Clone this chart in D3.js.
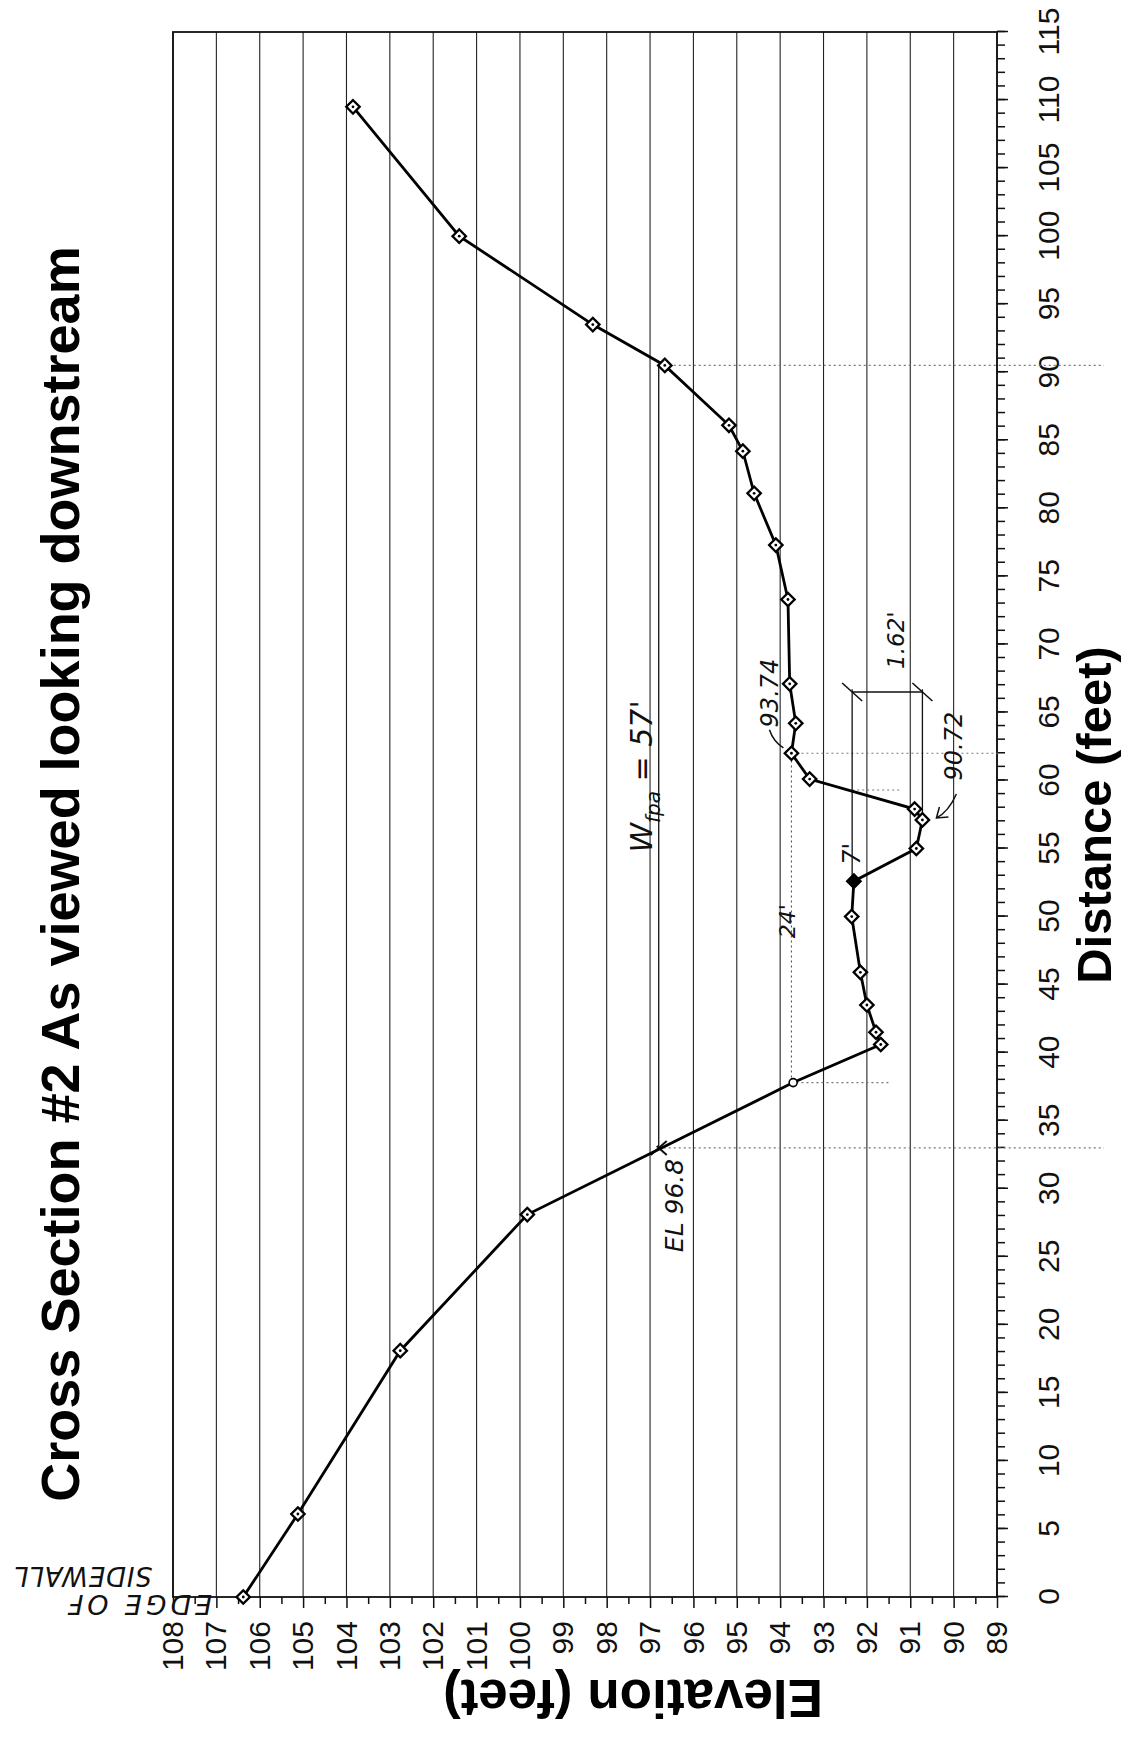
<!DOCTYPE html>
<html>
<head>
<meta charset="utf-8">
<script src="https://cdn.jsdelivr.net/npm/d3@7"></script>
<style>
  body { margin: 0; background: #fff; }
  .tick text { font-family: "Liberation Sans Narrow", "Arial Narrow", "Liberation Sans", Arial, sans-serif; }
  .hand { font-family: "DejaVu Sans", sans-serif; font-style: italic; fill: #111; }
</style>
</head>
<body>
<div id="chart"></div>
<script>
// ---- data ----
const distance  = [0, 6.1, 18.1, 28.1, 37.8, 40.6, 41.5, 43.5, 45.9, 50.0, 52.6, 55.0, 57.1, 57.9,
                   60.1, 62.0, 64.2, 67.1, 73.3, 77.3, 81.1, 84.2, 86.1, 90.5, 93.5, 100.0, 109.5];
const elevation = [106.38, 105.12, 102.76, 99.83, 93.70, 91.68, 91.79, 92.0, 92.15, 92.35, 92.30, 90.86, 90.72, 90.90,
                   93.32, 93.74, 93.64, 93.78, 93.82, 94.10, 94.60, 94.86, 95.18, 96.66, 98.32, 101.40, 103.85];
const filledPoint = 10;   // solid diamond
const smallPoint = 4;     // small circle
const distTicks = d3.range(0, 116, 5);
const distMinor = d3.range(0, 116, 1);
const elevTicks = d3.range(89, 109, 1);
const elevMinor = d3.range(89, 108, 1).map(d => d + 0.5);

// hand-drawn notes (data units)
const waterElev = 96.8, fpaFrom = 33, fpaTo = 90.5;
const lowElev = 93.74, lowFrom = 37.8, lowTo = 62.0;
const bankElev = 92.34, bankFrom = 52.6, bankCross = 59.3;
const thalweg = 90.72, thalwegDist = 57.1, dimDist = 66.5;

const W = 1748, H = 1132;   // chart is drawn landscape, then turned on its side
const x = d3.scaleLinear().domain([0, 115]).range([151, 1716]);
const y = d3.scaleLinear().domain([89, 108]).range([997, 173]);

const svg = d3.select("#chart").append("svg")
  .attr("width", H).attr("height", W);
const g = svg.append("g").attr("transform", `translate(0,${W}) rotate(-90)`);

// horizontal gridlines every foot
g.append("g").selectAll("line").data(elevTicks).enter().append("line")
  .attr("x1", x(0)).attr("x2", x(115))
  .attr("y1", d => y(d)).attr("y2", d => y(d))
  .attr("stroke", "#222").attr("stroke-width", 1.1);

// plot border
g.append("rect")
  .attr("x", x(0)).attr("y", y(108))
  .attr("width", x(115) - x(0)).attr("height", y(89) - y(108))
  .attr("fill", "none").attr("stroke", "#111").attr("stroke-width", 1.8);

// distance axis (bottom of landscape)
const xMinor = g.append("g").attr("transform", `translate(0,${y(89)})`)
  .call(d3.axisBottom(x).tickValues(distMinor).tickSize(8).tickFormat(""));
const xAxis = g.append("g").attr("transform", `translate(0,${y(89)})`)
  .call(d3.axisBottom(x).tickValues(distTicks).tickSize(11).tickPadding(30).tickFormat(d3.format("d")));
xAxis.selectAll("text").attr("font-size", 30).attr("fill", "#111");

// elevation axis
const yMinor = g.append("g").attr("transform", `translate(${x(0)},0)`)
  .call(d3.axisLeft(y).tickValues(elevMinor).tickSize(7).tickFormat(""));
const yAxis = g.append("g").attr("transform", `translate(${x(0)},0)`)
  .call(d3.axisLeft(y).tickValues(elevTicks).tickSize(11).tickPadding(13).tickFormat(d3.format("d")));
yAxis.selectAll("text").attr("font-size", 30).attr("fill", "#111");

[xMinor, xAxis, yMinor, yAxis].forEach(a => {
  a.select(".domain").remove();
  a.selectAll("line").attr("stroke", "#111").attr("stroke-width", 1.5);
});

// titles
g.append("text")
  .attr("x", 874).attr("y", 79)
  .attr("text-anchor", "middle")
  .attr("font-family", "Liberation Sans, Arial, sans-serif")
  .attr("font-weight", "bold").attr("font-size", 54)
  .text("Cross Section #2 As viewed looking downstream");

g.append("text")
  .attr("transform", `translate(68,633) rotate(-90)`)
  .attr("text-anchor", "middle")
  .attr("font-family", "Liberation Sans, Arial, sans-serif")
  .attr("font-weight", "bold").attr("font-size", 53)
  .text("Elevation (feet)");

g.append("text")
  .attr("x", 933).attr("y", 1111)
  .attr("text-anchor", "middle")
  .attr("font-family", "Liberation Sans, Arial, sans-serif")
  .attr("font-weight", "bold").attr("font-size", 49)
  .text("Distance (feet)");

// ---- hand-drawn annotations ----
const thin = sel => sel.attr("stroke", "#111").attr("stroke-width", 1.3).attr("fill", "none");
const dots = sel => sel.attr("stroke", "#777").attr("stroke-width", 1.1).attr("stroke-dasharray", "2,3").attr("fill", "none");
const ann = g.append("g");

// flood prone line at EL 96.8
ann.append("line").attr("x1", x(fpaFrom)).attr("x2", x(fpaTo))
  .attr("y1", y(waterElev)).attr("y2", y(waterElev)).call(thin);
ann.append("line").attr("x1", x(fpaFrom)).attr("x2", x(fpaFrom))
  .attr("y1", y(waterElev)).attr("y2", 1104).call(dots);
ann.append("line").attr("x1", x(fpaTo)).attr("x2", x(fpaTo))
  .attr("y1", y(waterElev)).attr("y2", 1104).call(dots);
ann.append("path")
  .attr("d", `M${x(fpaFrom) - 7},${y(waterElev) - 8} L${x(fpaFrom) + 7},${y(waterElev) + 8} M${x(fpaFrom) - 7},${y(waterElev) + 8} L${x(fpaFrom) + 2},${y(waterElev) - 2}`)
  .attr("stroke", "#111").attr("stroke-width", 2).attr("fill", "none");

// 24' line at 93.74
ann.append("line").attr("x1", x(lowFrom)).attr("x2", x(lowTo))
  .attr("y1", y(lowElev)).attr("y2", y(lowElev)).call(dots).attr("stroke", "#555");
ann.append("line").attr("x1", x(lowFrom)).attr("x2", x(lowFrom))
  .attr("y1", y(lowElev)).attr("y2", y(91.5)).call(dots);
ann.append("line").attr("x1", x(lowTo)).attr("x2", x(lowTo))
  .attr("y1", y(lowElev)).attr("y2", 1000).call(dots);

// 7' bankfull line and 1.62' dimension
ann.append("line").attr("x1", x(bankFrom)).attr("x2", x(dimDist + 0.2))
  .attr("y1", y(bankElev)).attr("y2", y(bankElev)).call(thin);
ann.append("line").attr("x1", x(thalwegDist)).attr("x2", x(dimDist + 0.2))
  .attr("y1", y(thalweg)).attr("y2", y(thalweg)).call(thin);
ann.append("line").attr("x1", x(bankCross)).attr("x2", x(bankCross))
  .attr("y1", y(bankElev)).attr("y2", y(91.2)).call(dots);
ann.append("line").attr("x1", x(dimDist)).attr("x2", x(dimDist))
  .attr("y1", y(bankElev)).attr("y2", y(thalweg)).call(thin);
[bankElev, thalweg].forEach(e => {
  ann.append("line")
    .attr("x1", x(dimDist) - 9).attr("y1", y(e) + 10)
    .attr("x2", x(dimDist) + 9).attr("y2", y(e) - 10)
    .attr("stroke", "#111").attr("stroke-width", 1.6);
});

// leader for 93.74
ann.append("path")
  .attr("d", `M${x(62.4)},${y(lowElev) - 8} q6,-10 18,-14`)
  .attr("stroke", "#111").attr("stroke-width", 1.5).attr("fill", "none");
// arrow to 90.72
const ax = x(thalwegDist) + 2, ay = y(thalweg) + 14;
ann.append("path")
  .attr("d", `M${ax + 24},${ay + 20} Q${ax + 6},${ay + 12} ${ax},${ay}`)
  .attr("stroke", "#111").attr("stroke-width", 1.5).attr("fill", "none");
ann.append("path")
  .attr("d", `M${ax + 1},${ay + 12} L${ax},${ay} L${ax + 11},${ay + 3}`)
  .attr("stroke", "#111").attr("stroke-width", 1.5).attr("fill", "none");

const notes = [
  {t: "EL 96.8", d: 32.2, e: 96.25, size: 25, anchor: "end"},
  {t: "93.74",   d: 63.9, e: 94.05, size: 24, anchor: "start"},
  {t: "1.62'",   d: 68.2, e: 91.15, size: 23, anchor: "start"},
  {t: "90.72",   d: 60.0, e: 89.8,  size: 24, anchor: "start"},
  {t: "24'",     d: 48.4, e: 93.65, size: 22, anchor: "start"},
  {t: "7'",      d: 53.8, e: 92.15, size: 24, anchor: "start"}
];
ann.selectAll("text.note").data(notes).enter().append("text")
  .attr("class", "hand note")
  .attr("x", d => x(d.d)).attr("y", d => y(d.e))
  .attr("font-size", d => d.size)
  .attr("text-anchor", d => d.anchor)
  .text(d => d.t);

// W_fpa = 57'
const wf = ann.append("text").attr("class", "hand")
  .attr("x", x(54.7)).attr("y", y(96.95)).attr("font-size", 30);
wf.append("tspan").text("W");
wf.append("tspan").attr("font-size", 20).attr("dy", 8).text("fpa");
wf.append("tspan").attr("dy", -8).text(" = 57'");

// EDGE OF SIDEWALL
ann.append("text").attr("class", "hand")
  .attr("transform", "translate(153,212) rotate(-90)")
  .attr("font-size", 27).attr("textLength", 144).text("EDGE OF");
ann.append("text").attr("class", "hand")
  .attr("transform", "translate(181,152) rotate(-90)")
  .attr("font-size", 26).attr("textLength", 138).text("SIDEWALL");

// ---- profile line ----
const pts = distance.map((d, i) => [d, elevation[i]]);
g.append("path")
  .datum(pts)
  .attr("d", d3.line().x(d => x(d[0])).y(d => y(d[1])))
  .attr("fill", "none").attr("stroke", "#000").attr("stroke-width", 2.8);

const marks = g.append("g").selectAll("g").data(pts).enter().append("g")
  .attr("transform", d => `translate(${x(d[0])},${y(d[1])})`);
marks.filter((d, i) => i !== smallPoint).append("path")
  .attr("d", d3.symbol(d3.symbolSquare, 90))
  .attr("transform", "rotate(45)")
  .attr("fill", "#fff")
  .attr("stroke", "#000").attr("stroke-width", 2.3);
marks.filter((d, i) => i === filledPoint).select("path").attr("fill", "#000");
marks.filter((d, i) => i !== smallPoint && i !== filledPoint).append("circle")
  .attr("r", 1.4).attr("fill", "#000");
marks.filter((d, i) => i === smallPoint).append("circle")
  .attr("r", 4).attr("fill", "#fff").attr("stroke", "#000").attr("stroke-width", 1.6);
</script>
</body>
</html>
